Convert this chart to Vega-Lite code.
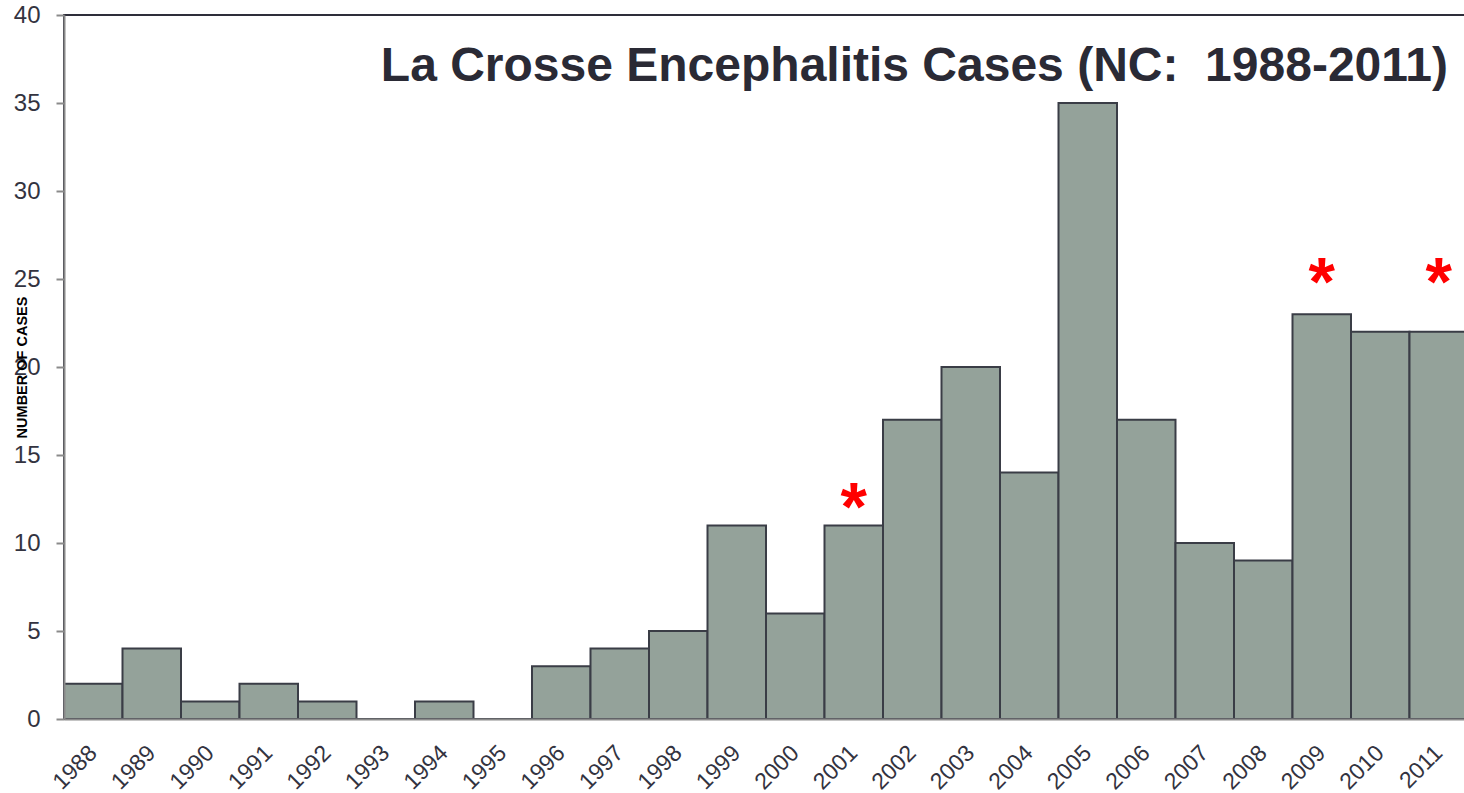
{
  "$schema": "https://vega.github.io/schema/vega-lite/v6.json",
  "width": 1404,
  "height": 704,
  "autosize": {"type": "none"},
  "padding": {"left": 64, "top": 15, "right": 0, "bottom": 74},
  "background": "white",
  "config": {
    "view": {"stroke": "#2e2e3a", "strokeWidth": 2},
    "font": "Liberation Sans"
  },
  "title": {
    "text": "La Crosse Encephalitis Cases (NC:\u00a0 1988-2011)",
    "anchor": "end",
    "frame": "group",
    "orient": "top",
    "font": "Liberation Sans",
    "fontSize": 48,
    "fontWeight": "bold",
    "color": "#2a2a35",
    "baseline": "alphabetic",
    "offset": 0,
    "dx": -20,
    "dy": 126
  },
  "datasets": {
    "cases": [
      {"year": "1988", "cases": 2},
      {"year": "1989", "cases": 4},
      {"year": "1990", "cases": 1},
      {"year": "1991", "cases": 2},
      {"year": "1992", "cases": 1},
      {"year": "1993", "cases": 0},
      {"year": "1994", "cases": 1},
      {"year": "1995", "cases": 0},
      {"year": "1996", "cases": 3},
      {"year": "1997", "cases": 4},
      {"year": "1998", "cases": 5},
      {"year": "1999", "cases": 11},
      {"year": "2000", "cases": 6},
      {"year": "2001", "cases": 11},
      {"year": "2002", "cases": 17},
      {"year": "2003", "cases": 20},
      {"year": "2004", "cases": 14},
      {"year": "2005", "cases": 35},
      {"year": "2006", "cases": 17},
      {"year": "2007", "cases": 10},
      {"year": "2008", "cases": 9},
      {"year": "2009", "cases": 23},
      {"year": "2010", "cases": 22},
      {"year": "2011", "cases": 22}
    ],
    "stars": [
      {"year": "2001", "at": 12.6, "symbol": "*"},
      {"year": "2009", "at": 25.4, "symbol": "*"},
      {"year": "2011", "at": 25.4, "symbol": "*"}
    ]
  },
  "layer": [
    {
      "data": {"name": "cases"},
      "mark": {"type": "bar", "fill": "#94a29a", "stroke": "#3a3d46", "strokeWidth": 2},
      "encoding": {
        "x": {
          "field": "year",
          "type": "ordinal",
          "scale": {"paddingInner": 0, "paddingOuter": 0},
          "axis": {
            "title": null,
            "labelAngle": -45,
            "labelAlign": "right",
            "labelBaseline": "middle",
            "labelFont": "Liberation Sans",
            "labelFontSize": 23,
            "labelColor": "#333340",
            "labelPadding": 30,
            "ticks": false,
            "tickSize": 0,
            "domainColor": "#8a8a8a",
            "domainWidth": 2,
            "zindex": 1
          }
        },
        "y": {
          "field": "cases",
          "type": "quantitative",
          "scale": {"domain": [0, 40], "nice": false},
          "axis": {
            "title": "NUMBER OF CASES",
            "titleFont": "Liberation Sans",
            "titleFontSize": 14.5,
            "titleFontWeight": "bold",
            "titleColor": "#000000",
            "titleAngle": 270,
            "titleX": -42,
            "titleY": 352,
            "titleAlign": "center",
            "titleBaseline": "middle",
            "values": [0, 5, 10, 15, 20, 25, 30, 35, 40],
            "labelFont": "Liberation Sans",
            "labelFontSize": 24,
            "labelColor": "#333340",
            "labelPadding": 16,
            "tickSize": 8,
            "tickColor": "#8a8a8a",
            "tickWidth": 2,
            "domainColor": "#8a8a8a",
            "domainWidth": 2,
            "grid": false,
            "zindex": 1
          }
        }
      }
    },
    {
      "data": {"name": "stars"},
      "mark": {"type": "text", "fontSize": 68, "fontWeight": "bold", "font": "Liberation Sans", "color": "#ff0000", "align": "center", "baseline": "alphabetic", "dy": 33},
      "encoding": {
        "x": {"field": "year", "type": "ordinal"},
        "y": {"field": "at", "type": "quantitative"},
        "text": {"field": "symbol"}
      }
    }
  ]
}
